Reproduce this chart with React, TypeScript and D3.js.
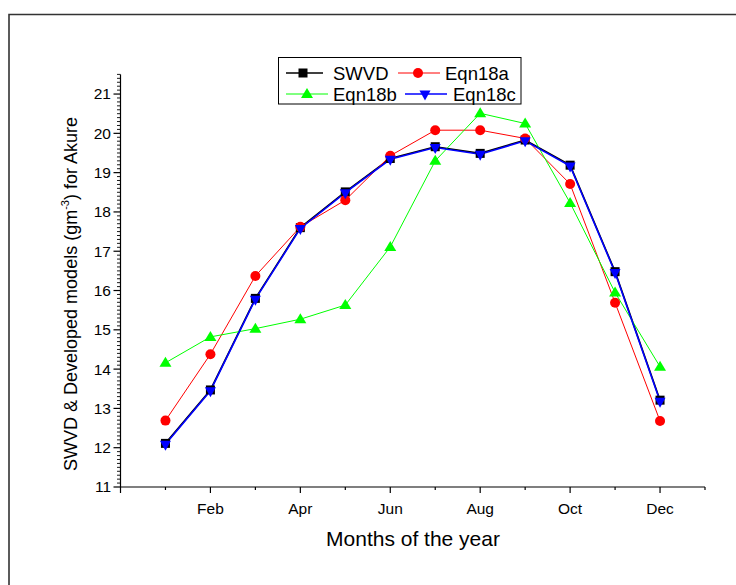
import React from "react";
import * as d3 from "d3";

const months = ["Jan", "Feb", "Mar", "Apr", "May", "Jun", "Jul", "Aug", "Sep", "Oct", "Nov", "Dec"];
const xTickLabels = ["Feb", "Apr", "Jun", "Aug", "Oct", "Dec"];
const yTickValues = [11, 12, 13, 14, 15, 16, 17, 18, 19, 20, 21];

const swvd = [12.11, 13.47, 15.8, 17.6, 18.51, 19.36, 19.66, 19.49, 19.83, 19.19, 16.48, 13.21];
const eqn18a = [12.69, 14.38, 16.37, 17.62, 18.3, 19.43, 20.08, 20.08, 19.87, 18.71, 15.69, 12.68];
const eqn18b = [14.16, 14.82, 15.03, 15.27, 15.63, 17.11, 19.3, 20.51, 20.25, 18.23, 15.95, 14.06];
const eqn18c = [12.09, 13.45, 15.78, 17.58, 18.49, 19.34, 19.64, 19.47, 19.81, 19.17, 16.46, 13.18];

const FONT = "Arial, 'Liberation Sans', sans-serif";

type Series = { name: string; values: number[]; color: string; width: number; marker: string };

const series: Series[] = [
  { name: "SWVD", values: swvd, color: "#000000", width: 1.6, marker: "square" },
  { name: "Eqn18a", values: eqn18a, color: "#ff0000", width: 1, marker: "circle" },
  { name: "Eqn18b", values: eqn18b, color: "#00ff00", width: 1, marker: "up" },
  { name: "Eqn18c", values: eqn18c, color: "#0000ff", width: 1.6, marker: "down" },
];

function Marker({ type, x, y, color }: { type: string; x: number; y: number; color: string }) {
  if (type === "square") {
    return <rect x={x - 4.5} y={y - 4.5} width={9} height={9} fill={color} />;
  }
  if (type === "circle") {
    return <circle cx={x} cy={y} r={5} fill={color} />;
  }
  if (type === "up") {
    const w = 6, h = 10;
    return <path d={`M${x},${y - h * 0.6}L${x + w},${y + h * 0.4}L${x - w},${y + h * 0.4}Z`} fill={color} />;
  }
  const w = 5.5, h = 10;
  return <path d={`M${x - w},${y - h * 0.35}L${x + w},${y - h * 0.35}L${x},${y + h * 0.65}Z`} fill={color} />;
}

export default function App() {
  const x = d3.scaleLinear().domain([0, 13]).range([120.5, 705]);
  const y = d3.scaleLinear().domain([11, 21.5]).range([487, 74.4]);

  const majorX = d3.range(0, 13, 2);
  const minorX = d3.range(1, 14, 2);
  const minorY = d3.range(110, 216, 1).map((v) => v / 10).filter((v) => Math.abs(v - Math.round(v)) > 1e-6);

  const line = d3
    .line<number>()
    .x((_, i) => x(i + 1))
    .y((d) => y(d));

  const legendRows = [
    [
      { s: series[0], lx1: 286, lx2: 323, mx: 303, tx: 333, ty: 73 },
      { s: series[1], lx1: 398, lx2: 440, mx: 418, tx: 445, ty: 73 },
    ],
    [
      { s: series[2], lx1: 286, lx2: 328, mx: 307, tx: 333, ty: 94 },
      { s: series[3], lx1: 405, lx2: 447, mx: 425, tx: 453, ty: 94 },
    ],
  ];

  return (
    <svg
      width={736}
      height={585}
      style={{ position: "absolute", left: 0, top: 0, background: "#fff" }}
      fontFamily={FONT}
    >
      <rect x={0} y={0} width={736} height={585} fill="#fff" />
      {/* outer frame */}
      <path d="M9,600V14.5H760" fill="none" stroke="#333" strokeWidth={1.6} />

      {/* series lines */}
      {series.map((s) => (
        <path key={s.name} d={line(s.values) || ""} fill="none" stroke={s.color} strokeWidth={s.width} />
      ))}
      {/* markers */}
      {series.map((s) => (
        <g key={s.name + "m"}>
          {s.values.map((v, i) => (
            <Marker key={i} type={s.marker} x={x(i + 1)} y={y(v)} color={s.color} />
          ))}
        </g>
      ))}

      {/* axes */}
      <g stroke="#000" strokeWidth={1.2}>
        <line x1={x(0)} x2={x(13)} y1={y(11)} y2={y(11)} />
        <line x1={x(0)} x2={x(0)} y1={y(11)} y2={y(21.5)} />
        {majorX.map((m) => (
          <line key={"mx" + m} x1={x(m)} x2={x(m)} y1={y(11)} y2={y(11) + 6} />
        ))}
        {minorX.map((m) => (
          <line key={"nx" + m} x1={x(m)} x2={x(m)} y1={y(11)} y2={y(11) + 3} />
        ))}
        {yTickValues.map((v) => (
          <line key={"my" + v} x1={x(0) - 7} x2={x(0)} y1={y(v)} y2={y(v)} />
        ))}
      </g>
      <g stroke="#000" strokeWidth={0.9}>
        {minorY.map((v) => (
          <line key={"ny" + v} x1={x(0) - 3.5} x2={x(0)} y1={y(v)} y2={y(v)} />
        ))}
      </g>

      {/* tick labels */}
      {xTickLabels.map((lab, i) => (
        <text key={lab} x={x(majorX[i + 1])} y={514} textAnchor="middle" fontSize={15.5} fill="#000">
          {lab}
        </text>
      ))}
      {yTickValues.map((v) => (
        <text key={"yl" + v} x={111} y={y(v)} dy="0.35em" textAnchor="end" fontSize={15.5} fill="#000">
          {v}
        </text>
      ))}

      {/* axis titles */}
      <text x={413} y={546} textAnchor="middle" fontSize={21} fill="#000">
        Months of the year
      </text>
      <text transform="translate(77,294) rotate(-90)" textAnchor="middle" fontSize={18} fill="#000">
        SWVD &amp; Developed models (gm
        <tspan fontSize={11} dy={-8}>-3</tspan>
        <tspan dy={8}>) for Akure</tspan>
      </text>

      {/* legend */}
      <rect x={278.5} y={57.5} width={242.5} height={46.5} fill="#fff" stroke="#000" strokeWidth={1} />
      {legendRows.flat().map((e) => (
        <g key={"lg" + e.s.name}>
          <line x1={e.lx1} x2={e.lx2} y1={e.ty} y2={e.ty} stroke={e.s.color} strokeWidth={e.s.width} />
          <Marker type={e.s.marker} x={e.mx} y={e.ty} color={e.s.color} />
          <text x={e.tx} y={e.ty} dy="0.36em" fontSize={18.5} fill="#000">
            {e.s.name}
          </text>
        </g>
      ))}
    </svg>
  );
}
